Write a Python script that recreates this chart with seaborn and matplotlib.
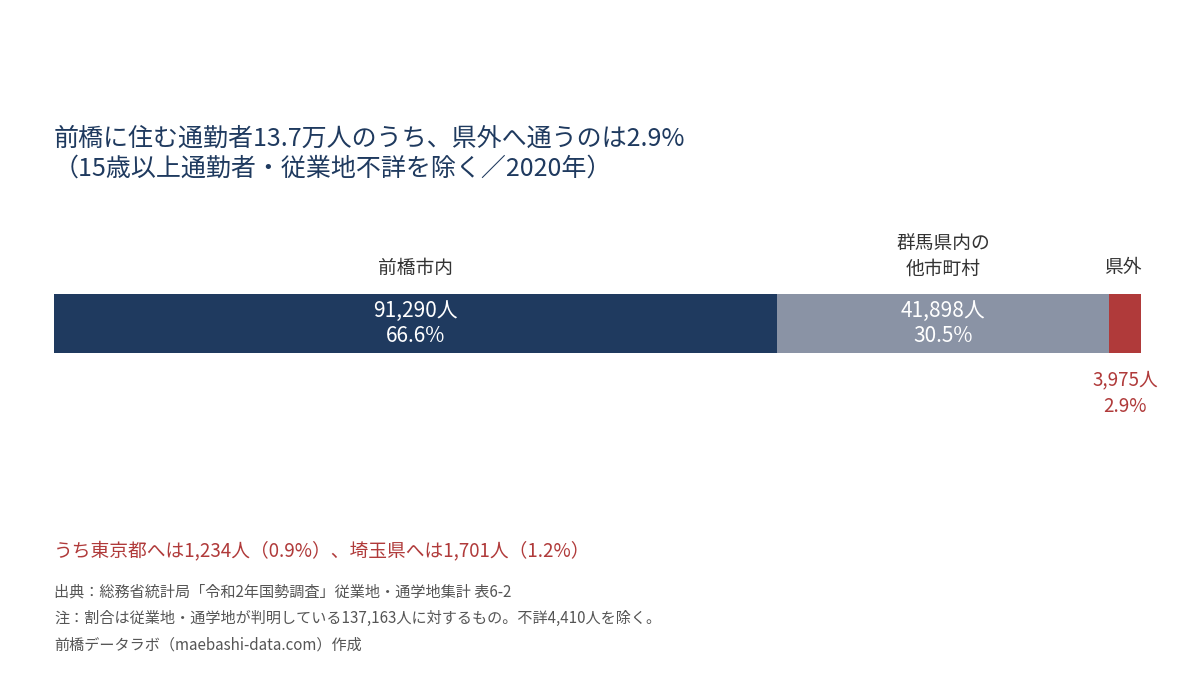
## 前橋市の通勤者の従業地割合を1本の積み上げ横棒で描く
import numpy as np
import pandas as pd
import seaborn as sns
import matplotlib.pyplot as plt

# データ
categories = ["前橋市内", "群馬県内の\n他市町村", "県外"]
people = [91290, 41898, 3975]
shares = ["66.6%", "30.5%", "2.9%"]
colors = ["#1f3a5f", "#8a93a5", "#b03a3a"]

title = "前橋に住む通勤者13.7万人のうち、県外へ通うのは2.9%\n（15歳以上通勤者・従業地不詳を除く／2020年）"
note_red = "うち東京都へは1,234人（0.9%）、埼玉県へは1,701人（1.2%）"
footnotes = [
	"出典：総務省統計局「令和2年国勢調査」従業地・通学地集計 表6-2",
	"注：割合は従業地・通学地が判明している137,163人に対するもの。不詳4,410人を除く。",
	"前橋データラボ（maebashi-data.com）作成",
]

sns.set_theme(style="white")
plt.rcParams['font.family'] = ['Noto Sans CJK JP', 'DejaVu Sans']

fig = plt.figure(figsize=(12, 6.75), dpi=100)
ax = fig.add_axes([54 / 1200, 1 - 353 / 675, 1087 / 1200, 59 / 675])

# 積み上げは累積値を大きい順に重ねて描く
cum = np.cumsum(people)
starts = cum - np.array(people)
for i in reversed(range(len(people))):
	df = pd.DataFrame({"row": ["all"], "value": [cum[i]]})
	sns.barplot(data=df, x="value", y="row", orient="h", color=colors[i],
		saturation=1, width=1.0, linewidth=0, ax=ax)

total = cum[-1]
ax.set_xlim(0, total)
ax.set_ylim(0.5, -0.5)
ax.axis("off")

trans = ax.get_xaxis_transform()
label_color = "#333333"
for i, cat in enumerate(categories):
	mid = starts[i] + people[i] / 2
	# 棒の上のカテゴリ名
	ypos = 1.0 + 38 / 59 if "\n" in cat else 1.0 + 26 / 59
	xoff = -2 if i == 2 else 0
	ax.annotate(cat, xy=(mid, ypos), xycoords=trans, xytext=(xoff, 0),
		textcoords="offset pixels", ha="center", va="center", fontsize=13.5,
		color=label_color, linespacing=1.3)
	txt = "{:,}人\n{}".format(people[i], shares[i])
	if i < 2:
		ax.text(mid, 0.5, txt, transform=trans, ha="center",
			va="center", fontsize=15, color="white", linespacing=1.15)
	else:
		ax.text(mid, -40 / 59, txt, transform=trans, ha="center", va="center",
			fontsize=13.5, color=colors[2], linespacing=1.35)

# タイトルと注記
fig.text(54 / 1200, 1 - 154 / 675, title, ha="left", va="center", fontsize=18,
	color="#1f3a5f", linespacing=1.2)
fig.text(54 / 1200, 1 - 551 / 675, note_red, ha="left", va="center",
	fontsize=13.5, color=colors[2])
for k, line in enumerate(footnotes):
	fig.text(54 / 1200, 1 - (592 + 26.5 * k) / 675, line, ha="left", va="center",
		fontsize=10.9, color="#555555")

fig.savefig("out.png", dpi=100, facecolor="white")
